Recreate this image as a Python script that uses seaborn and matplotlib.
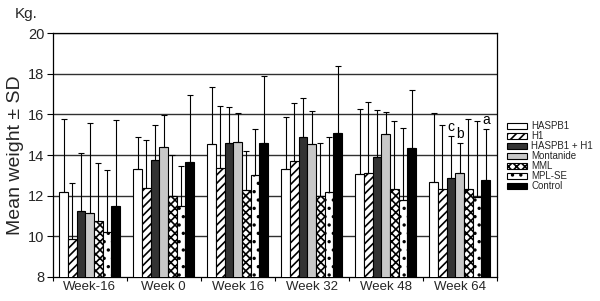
import matplotlib
matplotlib.use("Agg")
import matplotlib.pyplot as plt
from matplotlib.patches import Patch
import seaborn as sns
import pandas as pd
import numpy as np

groups = ["Week-16", "Week 0", "Week 16", "Week 32", "Week 48", "Week 64"]
series = ["HASPB1", "H1", "HASPB1 + H1", "Montanide", "MML", "MPL-SE", "Control"]

haspb1 = [12.18, 13.29, 14.54, 13.29, 13.05, 12.69]
h1 = [9.87, 12.38, 13.35, 13.70, 13.11, 12.33]
haspb1_h1 = [11.24, 13.75, 14.60, 14.90, 13.92, 12.85]
montanide = [11.13, 14.41, 14.64, 14.54, 15.02, 13.13]
mml = [10.74, 12.00, 12.28, 12.00, 12.34, 12.33]
mpl_se = [10.23, 11.47, 13.00, 12.16, 11.79, 11.93]
control = [11.47, 13.65, 14.59, 15.07, 14.33, 12.77]

sd_haspb1 = [3.59, 1.59, 2.82, 2.59, 3.21, 3.36]
sd_h1 = [2.75, 2.36, 3.06, 2.84, 3.51, 3.17]
sd_haspb1_h1 = [2.86, 1.75, 1.74, 1.89, 2.29, 2.08]
sd_montanide = [4.46, 1.54, 1.43, 1.64, 1.11, 1.44]
sd_mml = [2.86, 1.98, 1.92, 2.59, 3.33, 3.43]
sd_mpl_se = [3.02, 1.99, 2.26, 2.72, 3.55, 3.74]
sd_control = [4.23, 3.29, 3.28, 3.32, 2.87, 2.49]

# significance letters on Week 64: (series, letter)
sig_series = ["HASPB1 + H1", "Montanide", "Control"]
sig_letters = ["c", "b", "a"]

means = [haspb1, h1, haspb1_h1, montanide, mml, mpl_se, control]
sds = [sd_haspb1, sd_h1, sd_haspb1_h1, sd_montanide, sd_mml, sd_mpl_se, sd_control]

faces = ["white", "white", "#333333", "#c8c8c8", "white", "white", "black"]
hatches = ["", "////", "", "", "xxxx", "..", ""]

rows = []
for s, m in zip(series, means):
    for g, v in zip(groups, m):
        rows.append({"week": g, "group": s, "weight": v})
df = pd.DataFrame(rows)

sns.set_style("white")
plt.rcParams["font.family"] = ["Liberation Sans", "DejaVu Sans"]
plt.rcParams["hatch.linewidth"] = 1.2

fig = plt.figure(figsize=(6.0, 3.01), dpi=100)
ax = fig.add_axes([0.088, 0.080, 0.740, 0.810])

sns.barplot(data=df, x="week", y="weight", hue="group", order=groups,
            hue_order=series, errorbar=None, width=0.82, ax=ax,
            edgecolor="black", linewidth=0.8, legend=False, zorder=3)

bar_containers = list(ax.containers)
for i, cont in enumerate(bar_containers):
    xs = []
    for p in cont.patches:
        p.set_facecolor(faces[i])
        p.set_edgecolor("black")
        p.set_hatch(hatches[i])
        xs.append(p.get_x() + p.get_width() / 2)
    xs = np.array(xs)
    ax.errorbar(xs, means[i], yerr=[np.zeros(len(xs)), sds[i]], fmt="none",
                ecolor="black", elinewidth=0.8, capsize=2.5, capthick=0.8,
                zorder=4)
    if series[i] in sig_series:
        letter = sig_letters[sig_series.index(series[i])]
        top = means[i][-1] + sds[i][-1]
        ax.text(xs[-1], top + 0.1, letter, ha="center", va="bottom",
                fontsize=10, color="black")

ax.set_ylim(8, 20)
ax.set_yticks([8, 10, 12, 14, 16, 18, 20])
ax.set_xlim(-0.5, len(groups) - 0.5)
for yv in [10, 12, 14, 16, 18, 20]:
    ax.axhline(yv, color="#303030", linewidth=1.0, zorder=1)

ax.tick_params(axis="y", which="both", direction="out", length=4, width=0.8,
               left=True, labelsize=10.5, color="black", pad=2)
ax.set_xticks(np.arange(len(groups)))
ax.set_xticklabels(groups, fontsize=9.5)
ax.tick_params(axis="x", which="major", length=0, pad=3)
ax.set_xticks(np.arange(len(groups) + 1) - 0.5, minor=True)
ax.tick_params(axis="x", which="minor", direction="out", length=3, width=0.8,
               bottom=True, color="black")

for sp in ax.spines.values():
    sp.set_color("black")
    sp.set_linewidth(0.9)
    sp.set_visible(True)

ax.set_xlabel("")
ax.set_ylabel("Mean weight ± SD", fontsize=14, labelpad=3)
fig.text(0.025, 0.978, "Kg.", fontsize=11, ha="left", va="top")

handles = [Patch(facecolor=faces[i], edgecolor="black", hatch=hatches[i],
                 linewidth=0.8, label=series[i]) for i in range(len(series))]
fig.legend(handles=handles, loc="upper left", bbox_to_anchor=(0.845, 0.597),
           frameon=False, fontsize=7, handlelength=2.1, handleheight=0.6,
           labelspacing=0.0, handletextpad=0.4, borderpad=0.0,
           borderaxespad=0)

fig.savefig("out.png", dpi=100)
